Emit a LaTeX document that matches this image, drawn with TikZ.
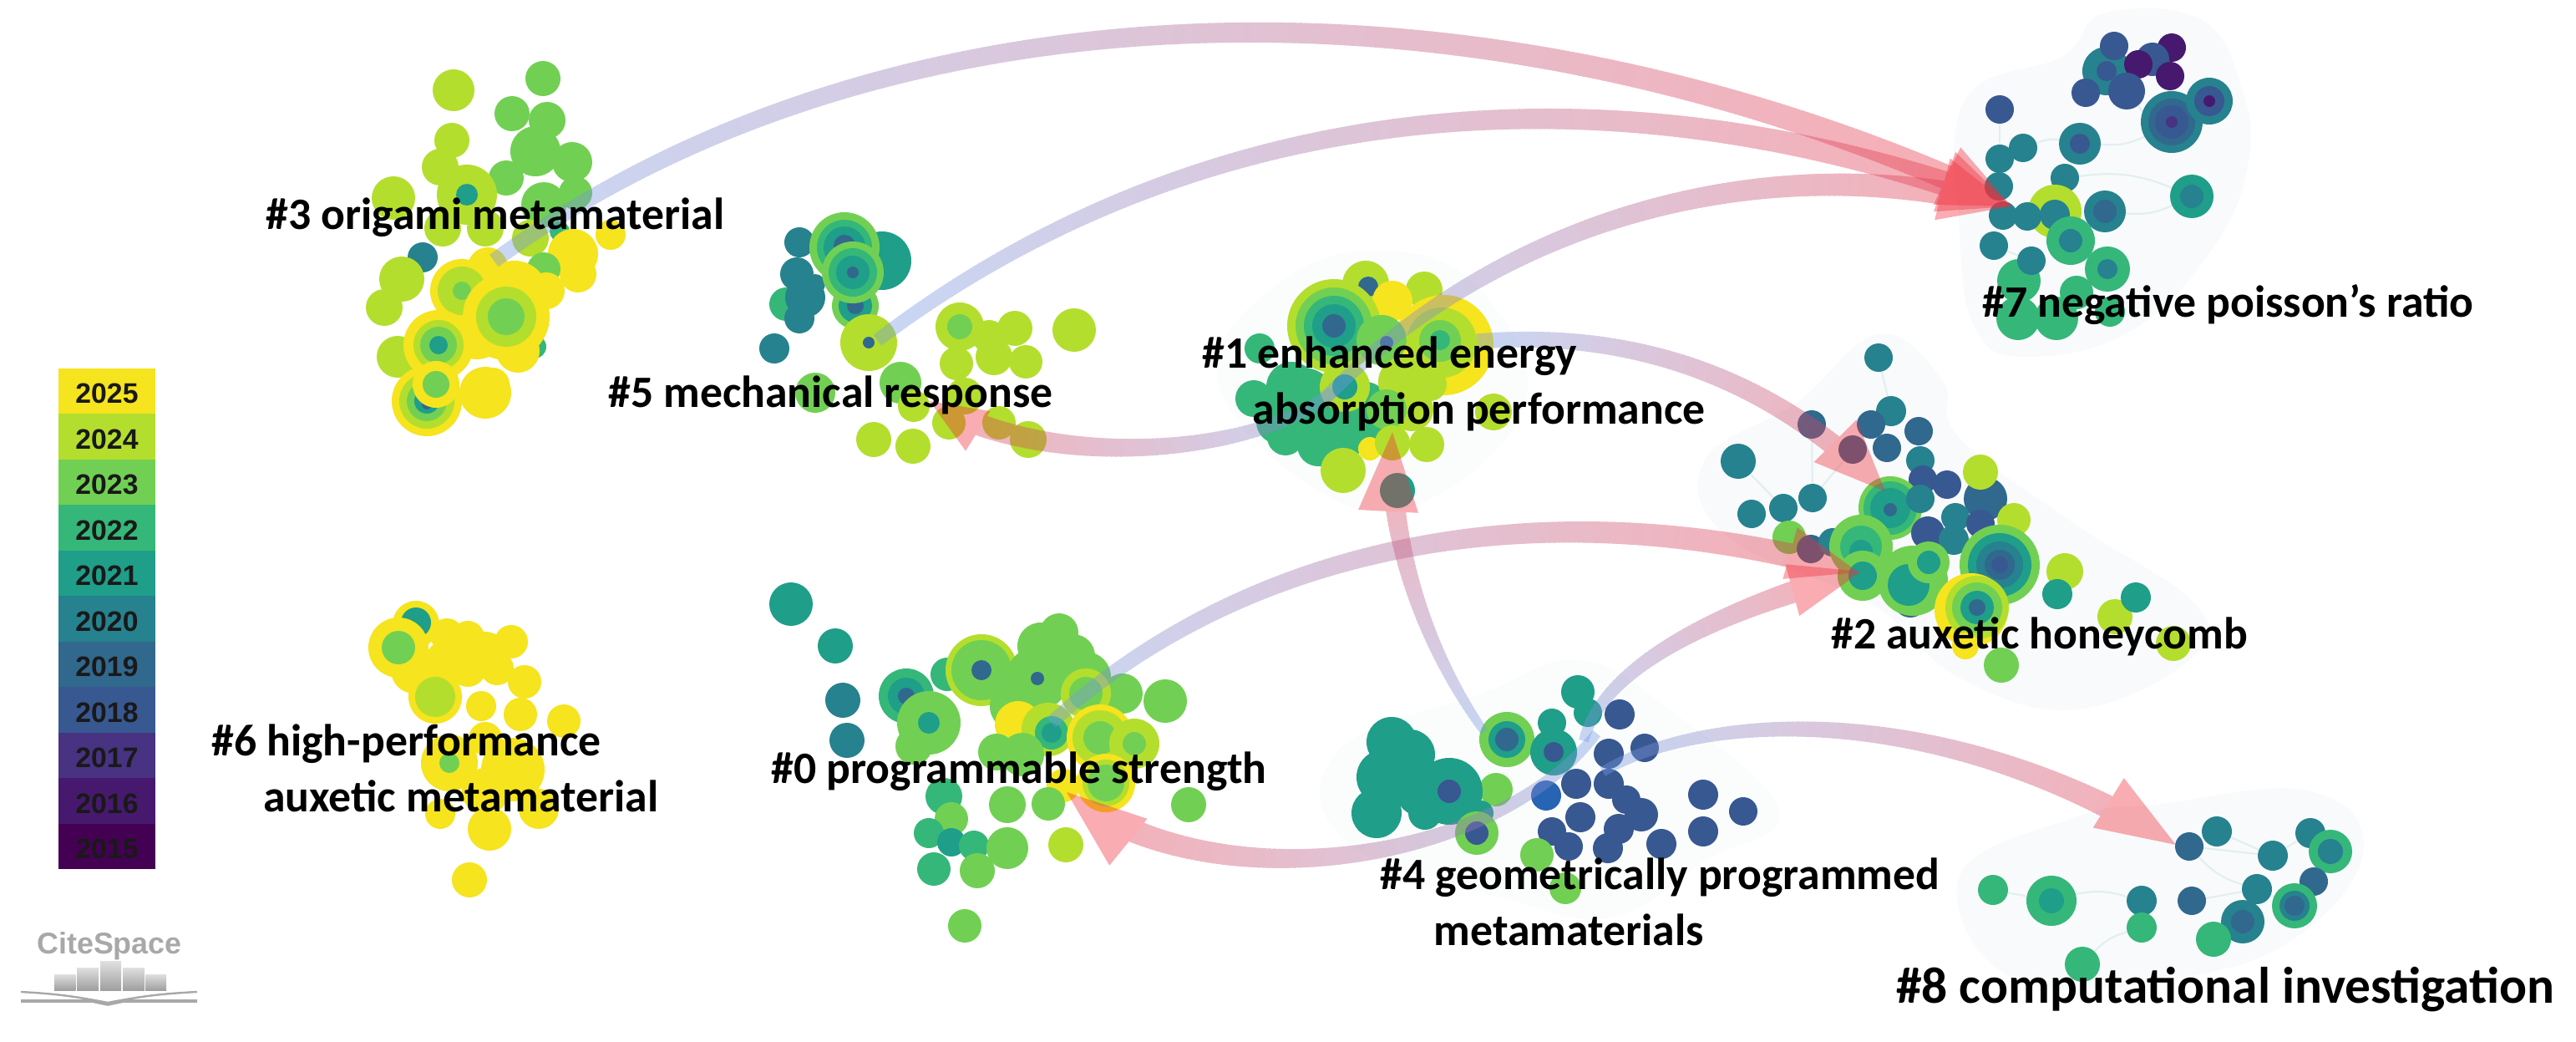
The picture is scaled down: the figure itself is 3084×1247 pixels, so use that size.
\documentclass[tikz,border=0pt]{standalone}
\usepackage{fontspec}
\usepackage{xcolor}
\setmainfont{Carlito}
\newfontfamily\legendfont{Liberation Sans}
\usetikzlibrary{calc,backgrounds,decorations.markings}
\definecolor{y25}{RGB}{245,228,30}
\definecolor{y24}{RGB}{180,222,45}
\definecolor{y23}{RGB}{113,208,83}
\definecolor{y22}{RGB}{53,183,121}
\definecolor{y21}{RGB}{31,158,137}
\definecolor{y20}{RGB}{38,130,142}
\definecolor{y19}{RGB}{49,104,142}
\definecolor{y18}{RGB}{56,88,145}
\definecolor{y18b}{RGB}{40,100,180}
\definecolor{y17}{RGB}{72,50,130}
\definecolor{y16}{RGB}{70,25,110}
\definecolor{y15}{RGB}{68,1,84}
\definecolor{flowcold}{RGB}{117,155,230}
\definecolor{flowhot}{RGB}{240,48,62}
\definecolor{hullgray}{RGB}{248,250,251}
\definecolor{hullpale}{RGB}{251,253,252}
\definecolor{edgegray}{RGB}{226,238,238}
\definecolor{logogray}{RGB}{168,168,168}
\tikzset{
  bub/.style={circle,inner sep=0pt,outer sep=0pt},
  lab/.style={font=\fontsize{#1}{47.6}\selectfont\bfseries,inner sep=0pt,anchor=base west,align=left},
  lab/.default=38.2,
  legcell/.style={minimum width=28.75mm,minimum height=13.7mm,inner sep=0pt,text height=21pt,text depth=0pt,font=\legendfont\fontsize{24}{24}\selectfont\bfseries,text=black!90},
  edge/.style={draw=edgegray,line width=.5mm},
  hull/.style={fill=hullgray},
  flowline/.style n args={4}{postaction={decorate,decoration={markings,
    mark=between positions 0 and -#3*.24mm step 1.5mm with {
      \pgfmathsetmacro{\flowfrac}{\pgfkeysvalueof{/pgf/decoration/mark info/distance from start}/\pgfdecoratedpathlength}
      \pgfmathsetmacro{\flowpc}{100*\flowfrac}
      \pgfmathsetmacro{\flowhw}{#1+(#2-#1)*\flowfrac}
      \fill[flowhot!\flowpc!flowcold] (-7,-\flowhw) rectangle (1,\flowhw);}}},
    postaction={decorate,decoration={markings,
    mark=at position 0.9999 with {\fill[flowhot] (0,0) -- (-#3,#4) -- (-#3,-#4) -- cycle;}}}}
}
\newcommand{\bubbles}[2]{\foreach \x/\y/\r/\c [count=\n] in {#2}
  \node[bub,fill=\c,minimum size=\r*.5mm] (#1-\n) at (\x,\y) {};}
\newcommand{\flow}[5]{\begin{scope}[transparency group,opacity=.4]
  \path[flowline=#5] (#1) .. controls #2 and #3 .. (#4);
\end{scope}}
\begin{document}
\begin{tikzpicture}[x=.25mm,y=-.25mm]
  \useasboundingbox (0,0) rectangle (3084,1247);

  \bubbles{c3}{543/108/25/y24,650/94/21/y23,613/136/21/y23,655/144/22/y23,641/181/30/y23,685/194/24/y23,606/213/21/y23,541/168/21/y24,527/200/22/y24,559/233/36/y24,559/233/13/y21,471/237/26/y24,689/231/20/y23,651/245/27/y23,530/273/22/y24,581/273/22/y24,635/285/22/y24,670/277/12/y22,506/308/18/y20,686/304/30/y25,731/281/18/y25,692/328/22/y25,481/334/27/y24,460/368/22/y24,651/322/20/y23,654/348/22/y25,640/415/14/y22,476/427/25/y24,584/320/24/y25,616/352/40/y25,620/420/26/y25,571/395/35/y25,553/348/38/y25,553/348/29/y24,553/348/11/y23,606/379/52/y25,606/379/36/y24,606/379/22/y23,525/413/42/y25,525/413/30/y24,525/413/22/y23,525/413/11/y21,511/480/42/y25,511/480/33/y24,511/480/24/y23,511/480/15/y21,511/484/6/y19,522/460/28/y25,522/460/16/y23,581/470/31/y25,590/460/20/y25}
  \bubbles{c5}{1056/312/35/y21,957/290/18/y20,954/328/20/y20,976/340/12/y20,941/364/20/y22,964/356/24/y20,957/381/18/y20,1024/366/28/y23,1024/366/20/y21,1024/366/10/y19,1011/296/42/y23,1011/296/33/y22,1011/296/25/y21,1011/294/13/y19,1021/326/37/y23,1021/326/29/y22,1021/326/20/y21,1021/326/7/y19,927/417/18/y20,1040/410/34/y24,1040/410/7/y19,1149/391/29/y24,1149/391/15/y23,1215/393/21/y24,1286/395/26/y24,1145/435/20/y24,1190/427/22/y24,1228/433/20/y24,1184/403/20/y24,1078/458/25/y23,976/470/24/y23,1094/486/19/y24,1155/474/22/y24,1136/506/20/y24,1046/526/21/y24,1093/534/21/y24,1196/506/20/y24,1231/526/22/y24}
  \bubbles{c1}{1635/340/28/y24,1638/343/12/y19,1705/347/22/y24,1667/360/24/y25,1508/417/18/y22,1546/463/30/y22,1501/477/22/y22,1539/523/22/y22,1578/533/25/y22,1622/517/26/y22,1584/497/30/y22,1635/483/26/y22,1560/480/40/y22,1595/525/36/y22,1530/505/26/y22,1650/500/28/y22,1728/413/60/y25,1726/410/42/y24,1724/408/25/y23,1724/407/12/y22,1597/390/56/y24,1597/390/46/y23,1597/390/36/y22,1597/390/26/y21,1597/390/14/y19,1654/407/30/y23,1660/410/8/y19,1610/463/30/y24,1610/463/15/y21,1680/457/30/y24,1712/460/20/y24,1690/490/26/y24,1660/490/24/y23,1788/493/22/y24,1640/537/14/y25,1667/530/21/y24,1708/532/21/y24,1608/563/27/y24,1673/587/21/y21}
  \bubbles{c7}{2522/85/29/y20,2522/85/12/y18,2531/55/17/y18,2600/57/17/y16,2577/71/20/y18,2560/77/17/y16,2598/91/17/y16,2546/109/22/y18,2497/111/17/y18,2394/131/17/y18,2600/146/37/y20,2600/146/28/y19,2600/146/20/y18,2600/146/7/y17,2645/121/28/y20,2645/121/18/y18,2645/121/7/y16,2490/172/25/y20,2490/172/12/y18,2422/177/17/y20,2394/190/17/y20,2472/213/17/y20,2393/223/17/y20,2624/235/26/y21,2624/235/14/y20,2460/253/32/y24,2398/258/17/y20,2427/259/17/y20,2460/257/18/y20,2520/253/25/y20,2520/253/14/y19,2479/288/29/y22,2479/288/14/y20,2387/294/17/y20,2523/322/27/y22,2523/322/12/y20,2417/336/26/y22,2432/312/17/y20,2486/350/20/y22,2416/381/26/y22,2462/381/26/y22,2526/373/18/y22}
  \bubbles{c2}{2249/428/17/y20,2264/492/18/y20,2240/508/17/y19,2297/516/17/y19,2259/536/17/y19,2169/508/17/y19,2218/538/17/y19,2081/552/21/y20,2299/551/17/y20,2170/596/17/y20,2135/608/17/y20,2097/615/17/y20,2302/574/17/y18,2331/580/17/y18,2377/597/26/y19,2371/565/21/y24,2411/622/20/y24,2263/608/38/y23,2263/608/32/y22,2263/608/24/y21,2263/610/8/y19,2299/597/17/y20,2341/619/17/y20,2371/627/17/y18,2308/638/20/y18,2339/646/18/y20,2142/643/20/y23,2168/657/17/y19,2194/649/17/y20,2287/719/20/y19,2228/654/38/y23,2228/654/25/y22,2228/660/14/y21,2230/689/30/y23,2230/689/17/y21,2290/695/42/y23,2285/700/25/y21,2309/673/25/y23,2309/673/14/y21,2394/676/48/y23,2394/676/38/y21,2394/676/28/y20,2394/676/18/y19,2394/676/10/y18,2360/730/44/y25,2367/727/38/y24,2367/727/30/y23,2367/727/20/y21,2367/727/10/y19,2353/773/16/y25,2472/684/22/y24,2463/711/18/y21,2532/738/21/y24,2557/715/18/y21,2602/770/21/y24,2396/796/21/y23}
  \bubbles{c8}{2621/1013/17/y19,2654/995/18/y20,2766/997/18/y20,2790/1019/26/y22,2790/1019/15/y20,2721/1024/18/y20,2770/1055/17/y19,2702/1064/18/y20,2624/1078/17/y19,2564/1078/18/y20,2386/1065/18/y22,2456/1078/30/y22,2456/1078/15/y21,2747/1084/27/y22,2747/1084/18/y20,2747/1084/12/y19,2685/1103/26/y20,2685/1103/14/y19,2564/1110/18/y22,2650/1124/21/y22,2493/1154/21/y22}
  \bubbles{c0}{947/723/26/y21,1000/773/21/y21,1009/838/21/y20,1014/886/21/y20,1134/807/20/y22,1085/833/33/y22,1085/833/22/y21,1085/833/10/y19,1094/893/22/y23,1112/865/38/y23,1112/865/13/y21,1175/802/43/y24,1175/802/36/y23,1175/802/12/y19,1268/757/23/y23,1246/773/28/y23,1215/845/30/y23,1285/785/26/y23,1300/810/30/y23,1242/812/38/y23,1242/812/8/y19,1344/830/24/y23,1395/839/26/y23,1219/867/28/y25,1255/873/32/y24,1300/830/30/y24,1300/830/20/y23,1259/877/20/y22,1259/877/12/y21,1317/883/40/y25,1317/883/33/y24,1317/883/20/y23,1358/890/30/y24,1358/890/14/y23,1193/900/22/y23,1224/903/26/y23,1273/940/20/y25,1324/937/35/y25,1324/937/28/y24,1324/937/22/y23,1130/953/22/y22,1206/963/22/y23,1255/962/20/y23,1139/980/20/y23,1423/963/21/y23,1112/997/18/y22,1139/1008/17/y21,1166/1012/18/y22,1206/1015/25/y23,1276/1011/21/y24,1118/1040/20/y22,1170/1042/21/y23,1155/1108/20/y23}
  \bubbles{c4}{1889/828/20/y21,1901/853/17/y21,1939/855/18/y18,1858/865/17/y21,1804/885/33/y23,1804/885/22/y21,1804/885/14/y19,1666/888/30/y21,1688/903/30/y21,1860/900/28/y21,1860/900/12/y18,1926/902/18/y18,1969/895/17/y18,1657/930/33/y21,1648/973/30/y21,1701/947/30/y21,1791/945/20/y23,1735/947/40/y21,1735/947/14/y18,1706/973/20/y21,1773/973/15/y21,1768/997/26/y23,1768/997/14/y18,1887/938/18/y18,1926/938/18/y18,1851/952/18/y18b,1947/957/17/y18,1965/975/20/y18,1892/978/18/y18,1938/992/18/y18,1858/995/17/y18,2039/951/18/y18,2087/971/17/y18,2039/995/18/y18,1989/1010/18/y18,1878/1013/17/y18,1925/1015/18/y18,1840/1023/20/y23,1874/1063/19/y23}
  \bubbles{c6}{498/747/28/y25,498/745/18/y21,496/802/28/y25,477/775/36/y25,477/775/20/y23,535/760/20/y25,560/800/22/y25,521/834/32/y25,521/834/24/y24,532/789/22/y25,560/763/20/y25,612/768/20/y25,581/784/28/y25,595/800/20/y25,628/816/20/y25,576/845/18/y25,623/855/20/y25,675/863/20/y25,581/884/20/y25,538/913/34/y25,538/913/12/y23,614/921/38/y25,581/947/28/y25,527/974/18/y25,586/992/26/y25,645/968/24/y25,562/1053/21/y25}

  \begin{pgfonlayer}{background}
    \fill[hull] plot[smooth cycle,tension=.7] coordinates {(2519,16) (2636,24) (2685,110) (2691,198) (2650,296) (2553,395) (2429,427) (2366,395) (2346,277) (2353,119) (2470,67)};
    \fill[hull] plot[smooth cycle,tension=.7] coordinates {(2249,400) (2325,454) (2346,524) (2484,627) (2629,724) (2622,789) (2484,849) (2346,811) (2242,724) (2069,643) (2041,551) (2152,481)};
    \fill[hull] plot[smooth cycle,tension=.7] coordinates {(2588,962) (2761,946) (2830,1011) (2761,1113) (2622,1168) (2415,1173) (2346,1049) (2484,978)};
    \fill[hullpale] plot[smooth cycle,tension=.7] coordinates {(1889,790) (1996,847) (2130,970) (2041,1030) (1934,1097) (1817,1080) (1612,1007) (1603,897) (1773,830)};
    \fill[hullpale] plot[smooth cycle,tension=.7] coordinates {(1667,300) (1775,350) (1826,483) (1699,603) (1571,583) (1457,450) (1539,333)};
    \draw[edge] (c7-10) -- (c7-21);
    \draw[edge] (c7-18) to[bend right=15] (c7-11);
    \draw[edge] (c7-22) to[bend left=15] (c7-24);
    \draw[edge] (c7-30) to[bend right=15] (c7-24);
    \draw[edge] (c7-20) to[bend left=15] (c7-18);
    \draw[edge] (c7-21) to[bend left=15] (c7-27);
    \draw[edge] (c7-38) -- (c7-34);
    \draw[edge] (c7-32) -- (c7-35);
    \draw[edge] (c7-8) to[bend right=15] (c7-11);
    \draw[edge] (c2-1) -- (c2-2);
    \draw[edge] (c2-8) -- (c2-11);
    \draw[edge] (c2-7) -- (c2-10);
    \draw[edge] (c2-6) -- (c2-10);
    \draw[edge] (c8-1) -- (c8-6);
    \draw[edge] (c8-1) to[bend right=15] (c8-8);
    \draw[edge] (c8-2) -- (c8-6);
    \draw[edge] (c8-9) -- (c8-8);
    \draw[edge] (c8-10) to[bend right=15] (c8-12);
    \draw[edge] (c8-11) -- (c8-12);
    \draw[edge] (c8-19) to[bend right=15] (c8-21);
    \draw[edge] (c8-6) -- (c8-3);
    \draw[edge] (c8-8) -- (c8-14);
  \end{pgfonlayer}

  \coordinate (s3) at (597,308);
  \coordinate (s5) at (1056,403);
  \coordinate (s1) at (1590,473);
  \coordinate (s1b) at (1775,408);
  \coordinate (s0) at (1264,860);
  \coordinate (s4a) at (1898,880);
  \coordinate (s4b) at (1773,870);
  \coordinate (s4c) at (1907,883);
  \coordinate (s4d) at (1925,920);
  \coordinate (t7) at (2408,247);
  \coordinate (t5) at (1113,480);
  \coordinate (t2a) at (2257,588);
  \coordinate (t2b) at (2225,685);
  \coordinate (t2c) at (2228,684);
  \coordinate (t1) at (1667,517);
  \coordinate (t0) at (1277,948);
  \coordinate (t8) at (2605,1011);

  \flow{s3}{(1080,-40)}{(1800,-40)}{t7}{{9}{15}{85}{38}}
  \flow{s5}{(1420,130)}{(1900,60)}{t7}{{8}{15}{85}{38}}
  \flow{s1}{(1790,270)}{(2100,170)}{t7}{{8}{15}{85}{38}}
  \flow{s1}{(1500,545)}{(1250,565)}{t5}{{7}{14}{68}{28}}
  \flow{s1b}{(1970,395)}{(2130,460)}{t2a}{{9}{13}{85}{36}}
  \flow{s0}{(1500,650)}{(1850,580)}{t2b}{{8}{15}{85}{32}}
  \flow{s4a}{(1920,810)}{(2020,740)}{t2c}{{6}{15}{85}{32}}
  \flow{s4b}{(1710,780)}{(1660,650)}{t1}{{5}{14}{95}{36}}
  \flow{s4c}{(1780,1040)}{(1440,1080)}{t0}{{6}{15}{95}{36}}
  \flow{s4d}{(2050,850)}{(2330,840)}{t8}{{6}{15}{95}{35}}

  \node[lab] (l3) at (318,275) {\#3 origami metamaterial};
  \node[lab] (l5) at (728,487) {\#5 mechanical response};
  \node[lab] (l1) at (1439,507) {\#1 enhanced energy\\\hspace*{43pt}absorption performance};
  \node[lab] (l7) at (2373,379) {\#7 negative poisson’s ratio};
  \node[lab] (l2) at (2192,776) {\#2 auxetic honeycomb};
  \node[lab] (l0) at (923,937) {\#0 programmable strength};
  \node[lab] (l4) at (1652,1131) {\#4 geometrically programmed\\\hspace*{46pt}metamaterials};
  \node[lab] (l6) at (253,971) {\#6 high-performance\\\hspace*{44pt}auxetic metamaterial};
  \node[lab=43.7] (l8) at (2270,1200) {\#8 computational investigation};

  \foreach \yr/\c [count=\i from 0] in {2025/y25,2024/y24,2023/y23,2022/y22,2021/y21,2020/y20,2019/y19,2018/y18,2017/y17,2016/y16,2015/y15}
    \node[legcell,fill=\c] (yr\yr) at (128,468+54.5*\i) {\yr};

  \node[font=\legendfont\fontsize{25.5}{25.5}\selectfont\bfseries,text=logogray,inner sep=0pt] (logo) at (131,1132) {CiteSpace};
  \foreach \xa/\xb/\yt in {65/90.5/1166,92/118/1158,120/145/1150.5,147/173/1158,174/199/1166}
    \shade[top color=gray!25,bottom color=gray!75] (\xa,\yt) rectangle (\xb,1185);
  \draw[logogray,line width=.6mm] (25,1187) to[bend left=4] (129,1200) to[bend left=4] (236,1187);
  \draw[logogray,line width=.9mm] (25,1198) -- (110,1198) -- (129,1202) -- (148,1198) -- (236,1198);
\end{tikzpicture}
\end{document}
